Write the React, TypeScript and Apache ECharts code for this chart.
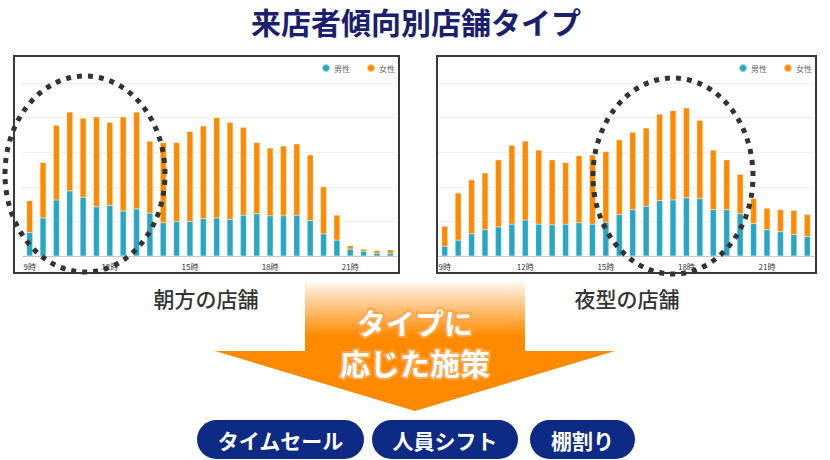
import React, { useEffect, useRef } from "react";
import * as echarts from "echarts";

const TITLE = "来店者傾向別店舗タイプ";
const SERIES_NAMES = ["男性", "女性"];
const TIME_SLOTS = [
  "9時", "9時半", "10時", "10時半", "11時", "11時半", "12時", "12時半",
  "13時", "13時半", "14時", "14時半", "15時", "15時半", "16時", "16時半",
  "17時", "17時半", "18時", "18時半", "19時", "19時半", "20時", "20時半",
  "21時", "21時半", "22時", "22時半",
];

// 朝方の店舗
const morningMale = [34, 55, 81, 94, 85, 71, 73, 65, 68, 62, 48, 50, 50, 54, 55, 53, 59, 61, 58, 58, 59, 51, 32, 23, 10, 7, 4, 4];
const morningFemale = [46, 80, 108, 114, 114, 130, 120, 136, 140, 104, 116, 114, 130, 134, 145, 140, 127, 103, 98, 101, 103, 95, 68, 36, 5, 3, 4, 5];

// 夜型の店舗
const nightMale = [14, 23, 32, 38, 42, 46, 52, 46, 45, 46, 48, 46, 49, 60, 67, 72, 80, 81, 84, 83, 67, 67, 61, 47, 38, 35, 31, 28];
const nightFemale = [29, 68, 78, 82, 97, 114, 114, 107, 94, 89, 97, 100, 102, 108, 112, 113, 125, 129, 130, 113, 86, 72, 57, 36, 31, 32, 35, 32];

const CAPTIONS = ["朝方の店舗", "夜型の店舗"];
const ARROW_TEXT = ["タイプに", "応じた施策"];
const MEASURES = ["タイムセール", "人員シフト", "棚割り"];

const FONT = '"Noto Sans CJK JP", "Noto Sans", sans-serif';
const TEAL = "#27a7c4";
const ORANGE = "#ff8a00";
const NAVY = "#0d2a84";

export default function App() {
  const ref = useRef<HTMLDivElement>(null);

  useEffect(() => {
    if (!ref.current) return;
    const chart = echarts.init(ref.current, undefined, { renderer: "svg" });

    const xAxisBase = (gridIndex: number) => ({
      type: "category" as const,
      gridIndex,
      data: TIME_SLOTS,
      axisTick: { show: false },
      axisLine: { lineStyle: { color: "#c8c8c8", width: 1 } },
      axisLabel: {
        interval: 5,
        fontSize: 8,
        color: "#333",
        margin: 6,
        fontFamily: FONT,
      },
    });
    const yAxisBase = (gridIndex: number) => ({
      type: "value" as const,
      gridIndex,
      min: 0,
      max: 250,
      interval: 50,
      axisLabel: { show: false },
      axisLine: { show: false },
      axisTick: { show: false },
      splitLine: { lineStyle: { color: "#efefef", width: 1 } },
    });
    const barSeries = (name: string, data: number[], idx: number, color: string) => ({
      name,
      type: "bar" as const,
      stack: "s" + idx,
      xAxisIndex: idx,
      yAxisIndex: idx,
      barWidth: 6,
      data,
      itemStyle: { color, borderColor: "rgba(255,255,255,0.5)", borderWidth: 0.4 },
    });

    const legendBase = (right: number) => ({
      data: SERIES_NAMES,
      top: 63,
      right,
      padding: 0,
      icon: "circle",
      itemWidth: 8,
      itemHeight: 8,
      itemGap: 16,
      textStyle: { fontSize: 8, color: "#666", fontFamily: FONT, padding: [0, 0, 0, -1] },
    });

    const pillX = [197, 372, 530];
    const pillW = [167, 146, 105];

    const graphic: any[] = [
      // chart frames
      { type: "rect", shape: { x: 14, y: 56, width: 385, height: 217 }, style: { fill: "none", stroke: "#3a3a3a", lineWidth: 2 }, z: 1 },
      { type: "rect", shape: { x: 437, y: 56, width: 379, height: 217 }, style: { fill: "none", stroke: "#3a3a3a", lineWidth: 2 }, z: 1 },
      // title
      {
        type: "text", x: 416, y: 21, z: 10,
        style: { text: TITLE, fill: "#1c1f6e", fontSize: 30, fontWeight: "bold", fontFamily: FONT, align: "center", verticalAlign: "middle" },
      },
      // captions
      {
        type: "text", x: 206, y: 298, z: 10,
        style: { text: CAPTIONS[0], fill: "#333", fontSize: 21, fontWeight: 500, fontFamily: FONT, align: "center", verticalAlign: "middle" },
      },
      {
        type: "text", x: 627, y: 298, z: 10,
        style: { text: CAPTIONS[1], fill: "#333", fontSize: 21, fontWeight: 500, fontFamily: FONT, align: "center", verticalAlign: "middle" },
      },
      // arrow
      {
        type: "polygon", z: 5,
        shape: { points: [[305, 280], [525, 280], [525, 351], [615, 351], [415, 411], [215, 351], [305, 351]] },
        style: {
          fill: new echarts.graphic.LinearGradient(0, 280, 0, 336, [
            { offset: 0, color: "#ffffff" },
            { offset: 0.15, color: "#ffe9d2" },
            { offset: 1, color: ORANGE },
          ], true),
        },
      },
      {
        type: "text", x: 415, y: 322, z: 10,
        style: { text: ARROW_TEXT[0], fill: "#fff", fontSize: 29, fontWeight: "bold", fontFamily: FONT, align: "center", verticalAlign: "middle", stroke: "#ffa54a", lineWidth: 4 },
      },
      {
        type: "text", x: 415, y: 362, z: 10,
        style: { text: ARROW_TEXT[1], fill: "#fff", fontSize: 30, fontWeight: "bold", fontFamily: FONT, align: "center", verticalAlign: "middle", stroke: "#ffa54a", lineWidth: 4 },
      },
      // dotted ellipses
      {
        type: "ellipse", z: 100,
        shape: { cx: 85, cy: 174, rx: 80, ry: 98 },
        style: { fill: "none", stroke: "#333", lineWidth: 5, lineDash: [5, 6] },
      },
      {
        type: "ellipse", z: 100,
        shape: { cx: 673, cy: 176, rx: 80, ry: 98 },
        style: { fill: "none", stroke: "#333", lineWidth: 5, lineDash: [5, 6] },
      },
    ];

    MEASURES.forEach((m, i) => {
      graphic.push({
        type: "rect", z: 10,
        shape: { x: pillX[i], y: 420, width: pillW[i], height: 39, r: 19.5 },
        style: { fill: NAVY },
      });
      graphic.push({
        type: "text", z: 11, x: pillX[i] + pillW[i] / 2, y: 440,
        style: { text: m, fill: "#fff", fontSize: 21, fontWeight: "bold", fontFamily: FONT, align: "center", verticalAlign: "middle" },
      });
    });

    chart.setOption({
      animation: false,
      backgroundColor: "#ffffff",
      textStyle: { fontFamily: FONT },
      grid: [
        { left: 23, top: 83, width: 374, height: 173 },
        { left: 438, top: 83, width: 376, height: 173 },
      ],
      xAxis: [xAxisBase(0), xAxisBase(1)],
      yAxis: [yAxisBase(0), yAxisBase(1)],
      legend: [legendBase(435), legendBase(18)],
      series: [
        barSeries(SERIES_NAMES[0], morningMale, 0, TEAL),
        barSeries(SERIES_NAMES[1], morningFemale, 0, ORANGE),
        barSeries(SERIES_NAMES[0], nightMale, 1, TEAL),
        barSeries(SERIES_NAMES[1], nightFemale, 1, ORANGE),
      ],
      graphic,
    });

    return () => chart.dispose();
  }, []);

  return (
    <div
      ref={ref}
      style={{ position: "fixed", left: 0, top: 0, width: 830, height: 460 }}
    />
  );
}
